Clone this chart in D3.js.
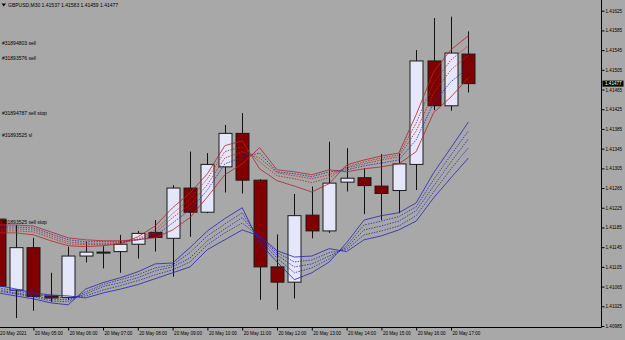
<!DOCTYPE html>
<html>
<head>
<meta charset="utf-8">
<script src="https://cdn.jsdelivr.net/npm/d3@7"></script>
<style>
  body { margin: 0; background: #a8a8a8; }
  text { font-family: "Liberation Sans", Arial, sans-serif; }
</style>
</head>
<body>
<div id="chart"></div>
<script>
// GBPUSD M30, 20 May 2021 04:00 - 17:30
var times = ["04:00","04:30","05:00","05:30","06:00","06:30","07:00","07:30","08:00","08:30",
             "09:00","09:30","10:00","10:30","11:00","11:30","12:00","12:30","13:00","13:30",
             "14:00","14:30","15:00","15:30","16:00","16:30","17:00","17:30"];

var open  = [1.41202,1.41058,1.41144,1.41046,1.41043,1.41127,1.41135,1.41136,1.41151,1.41175,
             1.41163,1.41265,1.41216,1.41308,1.41376,1.41281,1.41105,1.41074,1.41210,1.41178,
             1.41277,1.41286,1.41269,1.41260,1.41313,1.41523,1.41432,1.41537];
var high  = [1.41216,1.41190,1.41164,1.41093,1.41146,1.41156,1.41147,1.41170,1.41178,1.41200,
             1.41271,1.41339,1.41336,1.41393,1.41417,1.41283,1.41171,1.41253,1.41268,1.41359,
             1.41346,1.41305,1.41334,1.41336,1.41545,1.41610,1.41613,1.41583];
var low   = [1.41038,1.41001,1.41016,1.41034,1.41038,1.41114,1.41102,1.41093,1.41122,1.41136,
             1.41085,1.41166,1.41214,1.41256,1.41254,1.41038,1.41018,1.41041,1.41163,1.41174,
             1.41258,1.41212,1.41200,1.41214,1.41261,1.41423,1.41422,1.41459];
var close = [1.41066,1.41144,1.41045,1.41042,1.41127,1.41135,1.41134,1.41151,1.41173,1.41165,
             1.41265,1.41216,1.41313,1.41376,1.41281,1.41105,1.41074,1.41209,1.41178,1.41275,
             1.41285,1.41270,1.41254,1.41314,1.41523,1.41432,1.41539,1.41477];

// upper (red) band: fast solid, three dotted, slow solid
var upFast = [1.41174,1.41174,1.41170,1.41158,1.41148,1.41146,1.41148,1.41152,1.41166,1.41188,
              1.41225,1.41255,1.41294,1.41351,1.41361,1.41304,1.41280,1.41269,1.41257,1.41274,
              1.41312,1.41322,1.41330,1.41336,1.41414,1.41501,1.41546,1.41574];
var upMid1 = [1.41178,1.41178,1.41176,1.41164,1.41152,1.41150,1.41150,1.41152,1.41162,1.41180,
              1.41213,1.41243,1.41284,1.41339,1.41349,1.41318,1.41290,1.41284,1.41276,1.41286,
              1.41308,1.41318,1.41326,1.41332,1.41397,1.41479,1.41525,1.41554];
var upMid2 = [1.41182,1.41182,1.41180,1.41168,1.41156,1.41152,1.41152,1.41154,1.41160,1.41174,
              1.41205,1.41231,1.41272,1.41326,1.41339,1.41326,1.41296,1.41290,1.41284,1.41292,
              1.41306,1.41314,1.41322,1.41328,1.41381,1.41458,1.41505,1.41535];
var upMid3 = [1.41186,1.41186,1.41184,1.41172,1.41160,1.41156,1.41156,1.41156,1.41160,1.41168,
              1.41194,1.41221,1.41261,1.41314,1.41328,1.41336,1.41298,1.41294,1.41288,1.41298,
              1.41302,1.41310,1.41316,1.41322,1.41363,1.41438,1.41481,1.41509];
var upSlow = [1.41190,1.41190,1.41188,1.41176,1.41164,1.41160,1.41158,1.41158,1.41160,1.41164,
              1.41180,1.41205,1.41247,1.41292,1.41314,1.41347,1.41302,1.41298,1.41292,1.41302,
              1.41298,1.41304,1.41308,1.41314,1.41339,1.41418,1.41450,1.41489];

// lower (blue) band
var loFast = [1.41052,1.41046,1.41040,1.41032,1.41028,1.41060,1.41073,1.41083,1.41095,1.41111,
              1.41113,1.41144,1.41178,1.41203,1.41225,1.41154,1.41115,1.41079,1.41093,1.41115,
              1.41154,1.41200,1.41209,1.41215,1.41235,1.41296,1.41347,1.41399];
var loMid1 = [1.41056,1.41050,1.41044,1.41036,1.41034,1.41054,1.41069,1.41079,1.41089,1.41103,
              1.41109,1.41134,1.41168,1.41192,1.41215,1.41160,1.41123,1.41093,1.41103,1.41121,
              1.41148,1.41190,1.41198,1.41207,1.41227,1.41282,1.41332,1.41381];
var loMid2 = [1.41058,1.41052,1.41046,1.41040,1.41038,1.41050,1.41065,1.41073,1.41083,1.41097,
              1.41105,1.41123,1.41158,1.41182,1.41205,1.41164,1.41129,1.41105,1.41111,1.41127,
              1.41144,1.41180,1.41188,1.41198,1.41219,1.41269,1.41318,1.41365];
var loMid3 = [1.41062,1.41056,1.41050,1.41044,1.41042,1.41046,1.41058,1.41067,1.41077,1.41089,
              1.41099,1.41115,1.41150,1.41174,1.41194,1.41166,1.41134,1.41115,1.41119,1.41134,
              1.41140,1.41170,1.41178,1.41188,1.41209,1.41257,1.41304,1.41347];
var loSlow = [1.41067,1.41060,1.41052,1.41048,1.41046,1.41042,1.41052,1.41060,1.41069,1.41081,
              1.41093,1.41105,1.41140,1.41160,1.41180,1.41168,1.41138,1.41125,1.41127,1.41142,
              1.41136,1.41160,1.41168,1.41180,1.41198,1.41245,1.41286,1.41326];

var priceTicks = [1.41625,1.41585,1.41545,1.41505,1.41465,1.41425,1.41385,1.41345,1.41305,
                  1.41265,1.41225,1.41185,1.41145,1.41105,1.41065,1.41025,1.40985];
var timeLabels = ["20 May 2021","20 May 05:00","20 May 06:00","20 May 07:00","20 May 08:00",
                  "20 May 09:00","20 May 10:00","20 May 11:00","20 May 12:00","20 May 13:00",
                  "20 May 14:00","20 May 15:00","20 May 16:00","20 May 17:00"];

var orderText  = ["#31894803 sell","#31893576 sell","#31894787 sell stop","#31893525 sl","#31893525 sell stop"];
var orderPrice = [1.41559,1.41529,1.41416,1.41373,1.41196];

var title = "GBPUSD,M30  1.41537 1.41583 1.41459 1.41477";

var W = 625, H = 340;
var plotRight = 601.5, plotBottom = 327.5;

var svg = d3.select("#chart").append("svg")
    .attr("width", W)
    .attr("height", H);

svg.append("rect").attr("width", W).attr("height", H).attr("fill", "#a8a8a8");

var x = d3.scaleLinear().domain([0, times.length - 1]).range([-1.4, 468.4]);
var y = d3.scaleLinear().domain([1.40985, 1.41625]).range([326, 10.7]);

svg.append("clipPath").attr("id", "plot")
    .append("rect").attr("x", 0).attr("y", 0).attr("width", plotRight).attr("height", plotBottom);

var g = svg.append("g").attr("clip-path", "url(#plot)");

// candles
var idx = d3.range(times.length);
var bw = 13;

g.selectAll(".wick").data(idx).enter().append("line")
    .attr("x1", function(i) { return Math.round(x(i)) + 0.5; })
    .attr("x2", function(i) { return Math.round(x(i)) + 0.5; })
    .attr("y1", function(i) { return y(high[i]); })
    .attr("y2", function(i) { return y(low[i]); })
    .attr("stroke", "#111")
    .attr("stroke-width", 1);

g.selectAll(".body").data(idx).enter().append("rect")
    .attr("x", function(i) { return Math.round(x(i)) - bw / 2 + 0.5; })
    .attr("y", function(i) { return y(Math.max(open[i], close[i])); })
    .attr("width", bw)
    .attr("height", function(i) { return Math.max(1, Math.abs(y(open[i]) - y(close[i]))); })
    .attr("fill", function(i) { return close[i] >= open[i] ? "#e6e6fa" : "#800000"; })
    .attr("stroke", "#1a1a1a")
    .attr("stroke-width", 1);

// moving average bands
var line = d3.line()
    .x(function(d, i) { return x(i); })
    .y(function(d) { return y(d); });

var red = "#b0262a", blue = "#2424b4";
var bands = [
    {data: upSlow, color: red, dash: null},
    {data: upMid3, color: blue, dash: "1.5,1.2"},
    {data: upMid2, color: red, dash: "1.5,1.2"},
    {data: upMid1, color: red, dash: "1.5,1.2"},
    {data: upFast, color: red, dash: null},
    {data: loSlow, color: blue, dash: null},
    {data: loMid3, color: blue, dash: "1.5,1.2"},
    {data: loMid2, color: blue, dash: "1.5,1.2"},
    {data: loMid1, color: blue, dash: "1.5,1.2"},
    {data: loFast, color: blue, dash: null}
];

bands.forEach(function(b) {
    g.append("path")
        .attr("d", line(b.data))
        .attr("fill", "none")
        .attr("stroke", b.color)
        .attr("stroke-width", 0.8)
        .attr("stroke-dasharray", b.dash);
});

// order labels
svg.selectAll(".order").data(orderText).enter().append("text")
    .attr("x", 2)
    .attr("y", function(d, i) { return y(orderPrice[i]) + 1.8; })
    .attr("font-size", "5px")
    .attr("fill", "#000")
    .text(function(d) { return d; });

// title
svg.append("path").attr("d", "M1.5,3.5 L6,3.5 L3.75,6.5 Z").attr("fill", "#000");
svg.append("text")
    .attr("x", 8)
    .attr("y", 7)
    .attr("font-size", "5px")
    .attr("fill", "#000")
    .text(title);

// right price axis
var yAxis = d3.axisRight(y)
    .tickValues(priceTicks)
    .tickSize(3)
    .tickPadding(1)
    .tickFormat(d3.format(".5f"));

var ya = svg.append("g")
    .attr("transform", "translate(" + plotRight + ",0)")
    .call(yAxis);
ya.select(".domain").remove();
ya.selectAll("line").attr("stroke", "#000");
ya.selectAll("text").attr("font-size", "4.6px").attr("fill", "#000")
    .attr("font-family", "Liberation Sans, Arial, sans-serif");

// current price marker
var last = close[close.length - 1];
svg.append("rect")
    .attr("x", plotRight + 1)
    .attr("y", y(last) - 3)
    .attr("width", 21)
    .attr("height", 6)
    .attr("fill", "#000");
svg.append("text")
    .attr("x", plotRight + 3.5)
    .attr("y", y(last) + 1.7)
    .attr("font-size", "4.6px")
    .attr("fill", "#fff")
    .text(d3.format(".5f")(last));

// bottom time axis
var xAxis = d3.axisBottom(x)
    .tickValues(d3.range(0, times.length, 2))
    .tickSize(3)
    .tickFormat(function(d) { return timeLabels[d / 2]; });

var xa = svg.append("g")
    .attr("transform", "translate(0," + plotBottom + ")")
    .call(xAxis);
xa.select(".domain").remove();
xa.selectAll("line").attr("stroke", "#000");
xa.selectAll("text")
    .attr("text-anchor", "start")
    .attr("dx", "1")
    .attr("y", 4)
    .attr("dy", "0.71em")
    .attr("font-size", "4.6px")
    .attr("fill", "#000")
    .attr("font-family", "Liberation Sans, Arial, sans-serif");

// frame
svg.append("line")
    .attr("x1", plotRight).attr("x2", plotRight)
    .attr("y1", 0).attr("y2", plotBottom)
    .attr("stroke", "#000");
svg.append("line")
    .attr("x1", 0).attr("x2", plotRight)
    .attr("y1", plotBottom).attr("y2", plotBottom)
    .attr("stroke", "#000");
</script>
</body>
</html>
